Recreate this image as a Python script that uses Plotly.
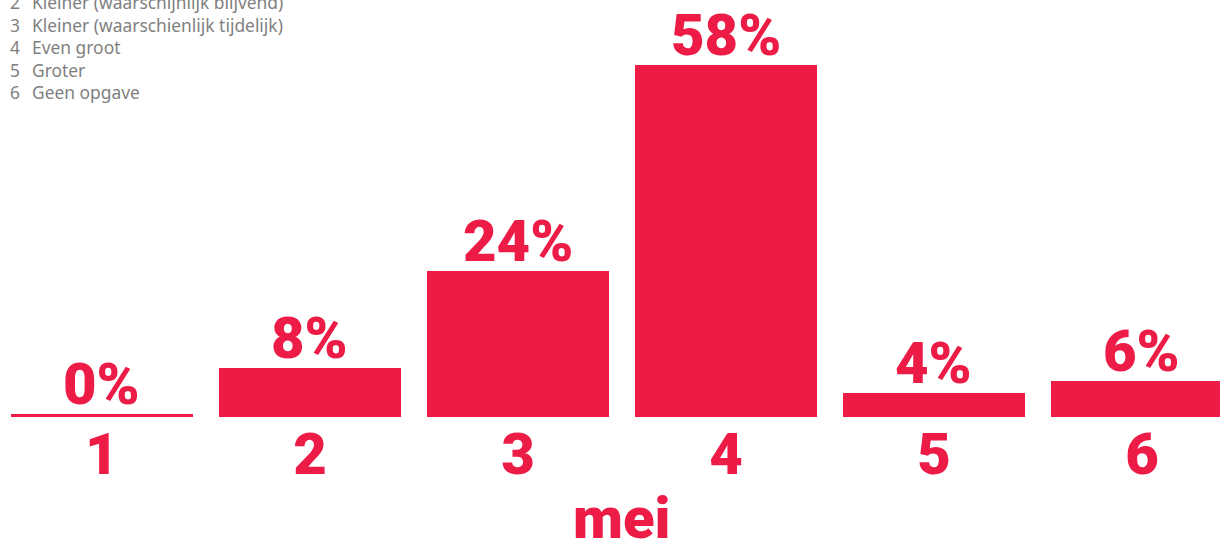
import plotly.graph_objects as go

categories = ["1", "2", "3", "4", "5", "6"]
values = [0, 8, 24, 58, 4, 6]
value_labels = ["0%", "8%", "24%", "58%", "4%", "6%"]
legend_numbers = ["2", "3", "4", "5", "6"]
legend_texts = [
    "Kleiner (waarschijnlijk blijvend)",
    "Kleiner (waarschienlijk tijdelijk)",
    "Even groot",
    "Groter",
    "Geen opgave",
]
axis_title = "mei"

RED = "#ED1C46"
GREY = "#7F7F7F"
FONT = "Roboto"
BIG = dict(family=FONT, size=58, color=RED, weight=900)

x_idx = list(range(len(categories)))
# zero values drawn as a thin visible line
display_vals = [v if v > 0 else 0.5 for v in values]

fig = go.Figure(
    go.Bar(
        x=x_idx,
        y=display_vals,
        width=0.875,
        marker=dict(color=RED, line=dict(width=0)),
        hoverinfo="skip",
    )
)

for xi, v, lab in zip(x_idx, display_vals, value_labels):
    fig.add_annotation(
        x=xi, y=v, xref="x", yref="y",
        text=lab, showarrow=False,
        xanchor="center", yanchor="bottom", yshift=-6,
        font=BIG,
    )

fig.update_layout(
    width=1220,
    height=542,
    margin=dict(l=0, r=0, t=0, b=125),
    plot_bgcolor="white",
    paper_bgcolor="white",
    showlegend=False,
    bargap=0,
)
fig.update_xaxes(
    tickmode="array",
    tickvals=x_idx,
    ticktext=categories,
    range=[-0.49, 5.375],
    showgrid=False,
    zeroline=False,
    showline=False,
    ticks="",
    ticklabelstandoff=-2,
    tickfont=BIG,
)
fig.update_yaxes(
    range=[0, 68.7],
    visible=False,
)

fig.add_annotation(
    xref="x", yref="paper",
    x=(len(categories) - 1) / 2, y=0,
    yshift=-65,
    text=axis_title,
    showarrow=False,
    xanchor="center", yanchor="top",
    font=BIG,
)

LEG = dict(family="Noto Sans", size=17.4, color=GREY)
fig.add_annotation(
    xref="paper", yref="paper",
    x=0, y=1, xshift=8, yshift=12,
    text="<br>".join(legend_numbers),
    showarrow=False, align="left",
    xanchor="left", yanchor="top",
    font=LEG,
)
fig.add_annotation(
    xref="paper", yref="paper",
    x=0, y=1, xshift=30, yshift=12,
    text="<br>".join(legend_texts),
    showarrow=False, align="left",
    xanchor="left", yanchor="top",
    font=LEG,
)

fig.write_html(
    "out.html",
    config={"displayModeBar": False},
    post_script="document.body.style.margin='0';",
)
